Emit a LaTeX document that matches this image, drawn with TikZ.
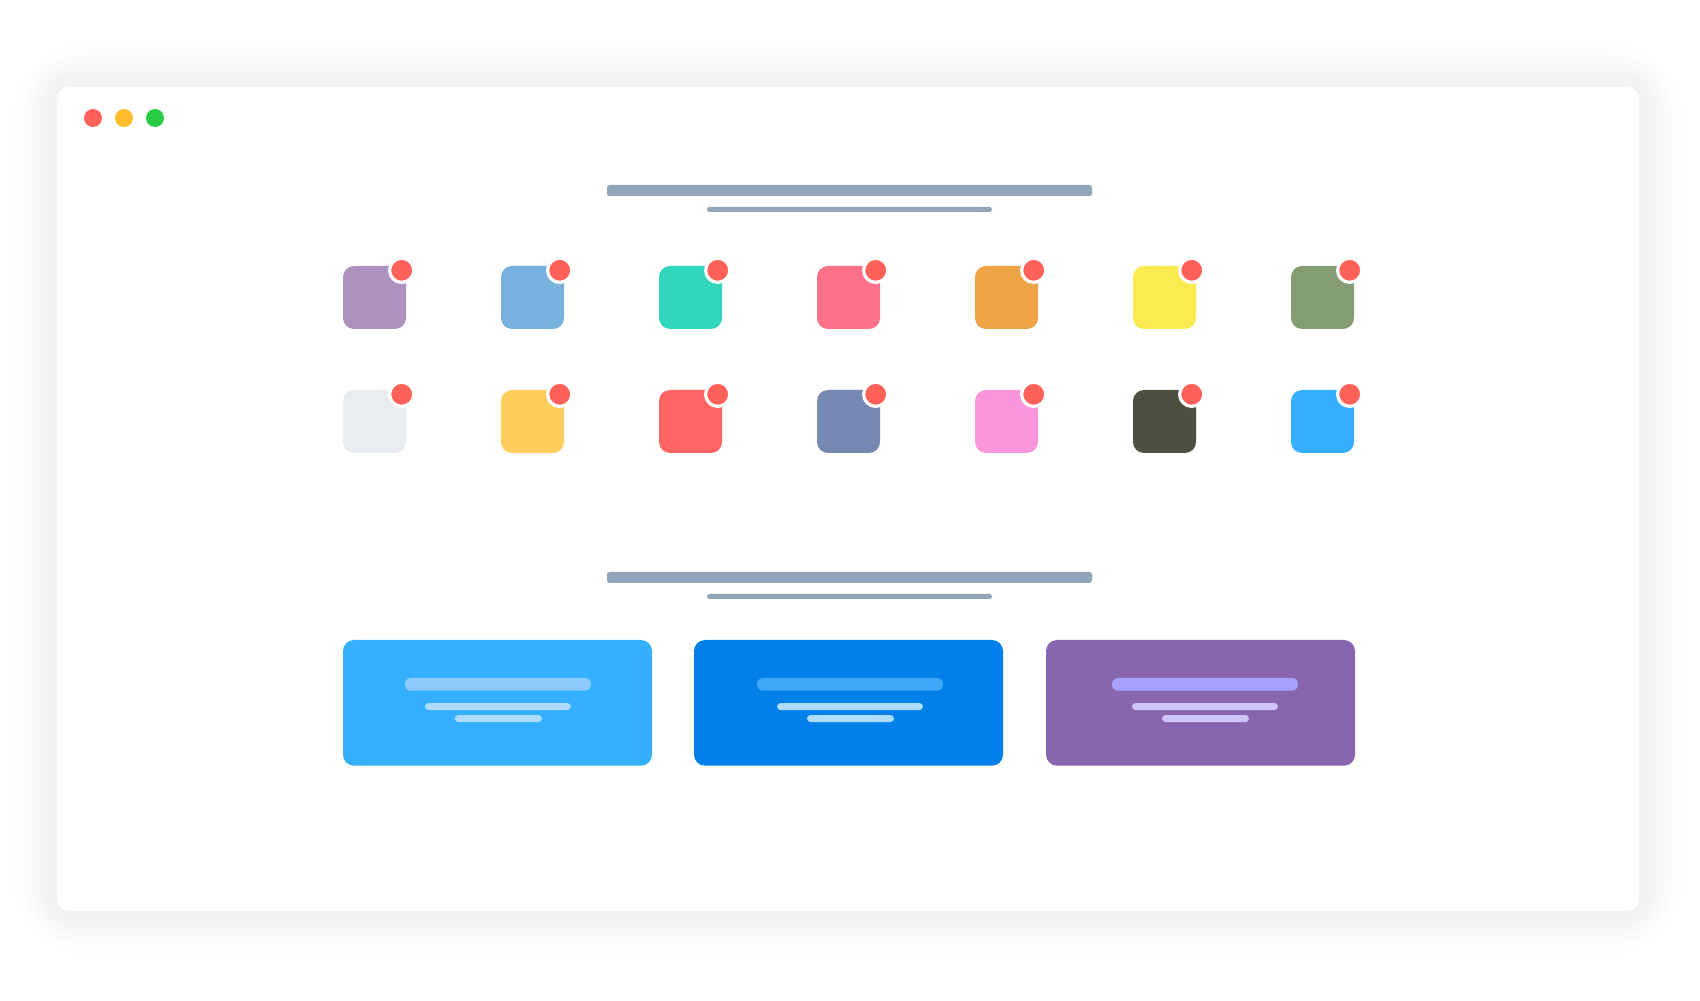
\documentclass[tikz,border=0pt]{standalone}
\usepackage{tikz}
\usetikzlibrary{positioning, shapes.geometric}
\definecolor{haze}{HTML}{F2F2F2}
\definecolor{slate}{HTML}{91A5B8}
\definecolor{alert}{HTML}{FF6159}
\definecolor{amber}{HTML}{FFBD2E}
\definecolor{lime}{HTML}{2ACA44}
\definecolor{tileA}{HTML}{AC92BF}
\definecolor{tileB}{HTML}{77B1DD}
\definecolor{tileC}{HTML}{31D6BC}
\definecolor{tileD}{HTML}{FF7089}
\definecolor{tileE}{HTML}{EEA347}
\definecolor{tileF}{HTML}{FCEB50}
\definecolor{tileG}{HTML}{839C72}
\definecolor{tileH}{HTML}{E9ECF1}
\definecolor{tileI}{HTML}{FFCD5C}
\definecolor{tileJ}{HTML}{FF6464}
\definecolor{tileK}{HTML}{7689B3}
\definecolor{tileL}{HTML}{FA96DC}
\definecolor{tileM}{HTML}{4F4F3F}
\definecolor{tileN}{HTML}{35AFFF}
\definecolor{cardB}{HTML}{0080E8}
\definecolor{cardC}{HTML}{8866AF}
\definecolor{barA}{HTML}{8DCBFF}
\definecolor{barB}{HTML}{3DA9F6}
\definecolor{barC}{HTML}{A6A0FB}
\definecolor{lineA}{HTML}{AEDCFF}
\definecolor{lineC}{HTML}{CFC6FF}
\tikzstyle{window} = [rectangle, rounded corners=0.24cm, minimum width=31.64cm, minimum height=16.48cm, inner sep=0, outer sep=0, fill=white]
\tikzstyle{dot} = [circle, minimum size=0.36cm, inner sep=0, outer sep=0]
\tikzstyle{headbar} = [rectangle, rounded corners=0.05cm, minimum width=9.7cm, minimum height=0.22cm, inner sep=0, outer sep=0, fill=slate]
\tikzstyle{subbar} = [rectangle, rounded corners=0.05cm, minimum width=5.7cm, minimum height=0.1cm, inner sep=0, outer sep=0, fill=slate]
\tikzstyle{tile} = [rectangle, rounded corners=0.22cm, minimum size=1.26cm, inner sep=0, outer sep=0]
\tikzstyle{badge} = [circle, minimum size=0.484cm, inner sep=0, outer sep=0, draw=white, line width=0.064cm, fill=alert]
\tikzstyle{card} = [rectangle, rounded corners=0.22cm, minimum width=6.18cm, minimum height=2.514cm, inner sep=0, outer sep=0]
\tikzstyle{cardbar} = [rectangle, rounded corners=0.12cm, minimum width=3.72cm, minimum height=0.254cm, inner sep=0, outer sep=0]
\tikzstyle{cardline} = [rectangle, rounded corners=0.07cm, minimum width=2.92cm, minimum height=0.14cm, inner sep=0, outer sep=0]
\tikzstyle{cardshort} = [rectangle, rounded corners=0.07cm, minimum width=1.74cm, minimum height=0.14cm, inner sep=0, outer sep=0]

\begin{document}
\begin{tikzpicture}[on grid]
	\useasboundingbox (0,0) rectangle (34,20);

	\foreach \i in {50,48,...,2} {
		\pgfmathsetmacro{\mixval}{100*(3*(\i/50)*(\i/50)-2*(\i/50)*(\i/50)*(\i/50))}
		\node (glow\i) [window, minimum width=31.64cm+\i*0.04cm, minimum height=16.48cm+\i*0.04cm, rounded corners=0.24cm+\i*0.03cm, fill=white!\mixval!haze] at (16.96,10.02) {};
	}

	\node (window) [window] at (16.96,10.02) {};

	\node (close) [dot, fill=alert] at (1.86,17.64) {};
	\node (minimize) [dot, fill=amber, right=0.62cm of close] {};
	\node (maximize) [dot, fill=lime, right=0.62cm of minimize] {};

	\node (title) [headbar] at (16.99,16.19) {};
	\node (subtitle) [subbar, below=0.38cm of title] {};

	\node (purple) [tile, fill=tileA] at (7.49,14.05) {};
	\node (sky) [tile, fill=tileB, right=3.16cm of purple] {};
	\node (teal) [tile, fill=tileC, right=3.16cm of sky] {};
	\node (rose) [tile, fill=tileD, right=3.16cm of teal] {};
	\node (orange) [tile, fill=tileE, right=3.16cm of rose] {};
	\node (yellow) [tile, fill=tileF, right=3.16cm of orange] {};
	\node (olive) [tile, fill=tileG, right=3.16cm of yellow] {};

	\node (mist) [tile, fill=tileH, below=2.48cm of purple] {};
	\node (sand) [tile, fill=tileI, right=3.16cm of mist] {};
	\node (coral) [tile, fill=tileJ, right=3.16cm of sand] {};
	\node (steel) [tile, fill=tileK, right=3.16cm of coral] {};
	\node (orchid) [tile, fill=tileL, right=3.16cm of steel] {};
	\node (moss) [tile, fill=tileM, right=3.16cm of orchid] {};
	\node (azure) [tile, fill=tileN, right=3.16cm of moss] {};

	\node (purpledot) [badge, above right=0.544cm and 0.544cm of purple] {};
	\node (skydot) [badge, above right=0.544cm and 0.544cm of sky] {};
	\node (tealdot) [badge, above right=0.544cm and 0.544cm of teal] {};
	\node (rosedot) [badge, above right=0.544cm and 0.544cm of rose] {};
	\node (orangedot) [badge, above right=0.544cm and 0.544cm of orange] {};
	\node (yellowdot) [badge, above right=0.544cm and 0.544cm of yellow] {};
	\node (olivedot) [badge, above right=0.544cm and 0.544cm of olive] {};
	\node (mistdot) [badge, above right=0.544cm and 0.544cm of mist] {};
	\node (sanddot) [badge, above right=0.544cm and 0.544cm of sand] {};
	\node (coraldot) [badge, above right=0.544cm and 0.544cm of coral] {};
	\node (steeldot) [badge, above right=0.544cm and 0.544cm of steel] {};
	\node (orchiddot) [badge, above right=0.544cm and 0.544cm of orchid] {};
	\node (mossdot) [badge, above right=0.544cm and 0.544cm of moss] {};
	\node (azuredot) [badge, above right=0.544cm and 0.544cm of azure] {};

	\node (lowertitle) [headbar] at (16.99,8.45) {};
	\node (lowersub) [subbar, below=0.38cm of lowertitle] {};

	\node (cardone) [card, fill=tileN] at (9.95,5.943) {};
	\node (cardtwo) [card, fill=cardB, right=7.02cm of cardone] {};
	\node (cardthree) [card, fill=cardC, right=7.04cm of cardtwo] {};

	\node (onebar) [cardbar, fill=barA, above right=0.37cm and 0.007cm of cardone] {};
	\node (oneline) [cardline, fill=lineA, below=0.444cm of onebar] {};
	\node (oneshort) [cardshort, fill=lineA, below right=0.24cm and 0.01cm of oneline] {};

	\node (twobar) [cardbar, fill=barB, above right=0.37cm and 0.03cm of cardtwo] {};
	\node (twoline) [cardline, fill=lineA, below=0.444cm of twobar] {};
	\node (twoshort) [cardshort, fill=lineA, below right=0.24cm and 0.01cm of twoline] {};

	\node (threebar) [cardbar, fill=barC, above right=0.37cm and 0.09cm of cardthree] {};
	\node (threeline) [cardline, fill=lineC, below=0.444cm of threebar] {};
	\node (threeshort) [cardshort, fill=lineC, below right=0.24cm and 0.01cm of threeline] {};

\end{tikzpicture}
\end{document}
